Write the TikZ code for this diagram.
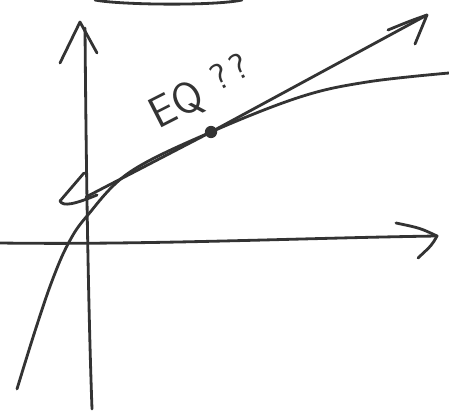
\documentclass[tikz,border=0pt]{standalone}
\usetikzlibrary{positioning}
\begin{document}
\begin{tikzpicture}[x=0.02cm,y=-0.02cm,line cap=round,line join=round,
  pen/.style={line width=1.6pt,draw=black!80}]
  \useasboundingbox (0,0) rectangle (449,412);
  % axes
  \coordinate (Ybot) at (92,409);
  \coordinate (Ytop) at (85,28);
  \coordinate (Xleft) at (0,243);
  \coordinate (Xright) at (437,236);
  % tangent line
  \coordinate (Tstart) at (86,197);
  \coordinate (Tend) at (427,15);
  \node[circle,fill=black!80,inner sep=0pt,minimum size=7pt] (Eq) at (211,132) {};
  % cut-off curve at the top
  \draw[pen] (95,0) .. controls (120,5) and (215,6) .. (242,0);
  % y axis
  \draw[pen] (Ybot) .. controls (88,300) and (86,150) .. (Ytop);
  \draw[pen] (60,63) -- (80,22) -- (97,53);
  % x axis
  \draw[pen] (Xleft) .. controls (150,245) and (300,238) .. (Xright);
  \draw[pen] (396,223) .. controls (420,228) .. (Xright) .. controls (432,245) .. (418,258);
  % curve
  \draw[pen] plot[smooth,tension=0.6] coordinates {(17,389) (35,331) (52,281) (68,244) (87,216) (130,172) (Eq.center) (300,97) (367,82) (449,73)};
  % tangent
  \draw[pen] (84,173) -- (60,201) .. controls (63,207) and (75,204) .. (97,195);
  \draw[pen] (Tstart) -- (Eq) -- (Tend);
  \draw[pen] (388,30) .. controls (410,21) .. (Tend) -- (415,44);
  % label
  \node[rotate=27,text=black!80,font=\sffamily\Huge,inner sep=0pt] (Lbl) at (201,93)
    {EQ\hspace{0.35em}\raisebox{0.35ex}{\huge ?\,?}};
\end{tikzpicture}
\end{document}
